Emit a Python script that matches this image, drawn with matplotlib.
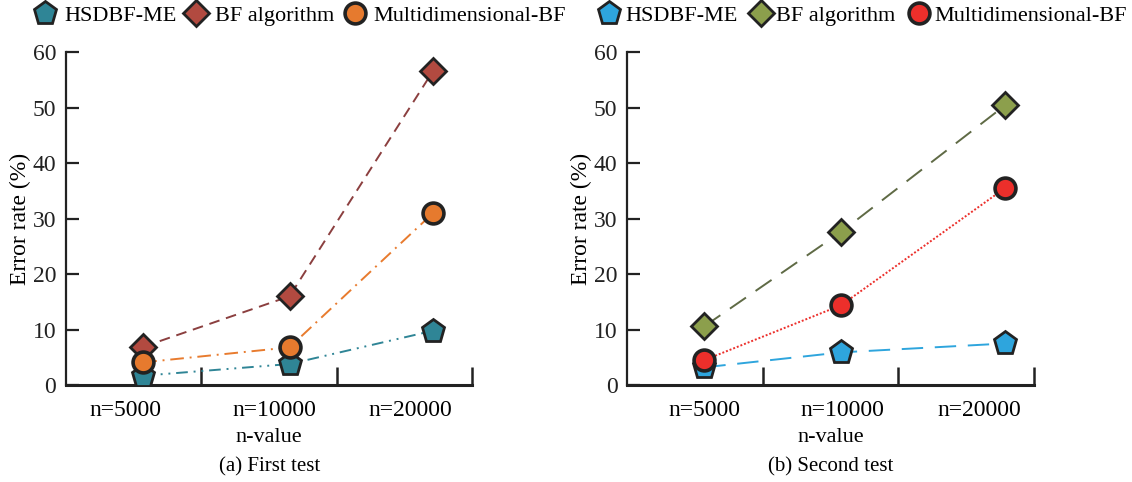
import matplotlib.pyplot as plt

plt.rcParams['font.family'] = ['Liberation Serif', 'DejaVu Serif']
plt.rcParams['font.size'] = 15

categories = ["n=5000", "n=10000", "n=20000"]
series_names = ["HSDBF-ME", "BF algorithm", "Multidimensional-BF"]

# first test (%)
first_hsdbf = [1.7, 3.8, 9.8]
first_bf = [6.9, 16.0, 56.6]
first_multi = [4.1, 6.8, 31.0]

# second test (%)
second_hsdbf = [3.2, 5.9, 7.5]
second_bf = [10.6, 27.6, 50.4]
second_multi = [4.5, 14.4, 35.5]

# where the points and the labels sit inside the three bins
first_x = [0.57, 1.65, 2.71]
second_x = [0.57, 1.58, 2.79]
first_label_x = [0.44, 1.54, 2.54]
second_label_x = [0.57, 1.59, 2.60]

edge = '#222222'


def style_axes(ax, label_x, subtitle):
    ax.set_xlim(0, 3)
    ax.set_ylim(0, 60)
    ax.spines['top'].set_visible(False)
    ax.spines['right'].set_visible(False)
    ax.spines['left'].set_linewidth(1.6)
    ax.spines['bottom'].set_linewidth(2.2)
    ax.spines['left'].set_color(edge)
    ax.spines['bottom'].set_color(edge)
    ax.set_yticks(range(0, 61, 10))
    ax.tick_params(axis='y', direction='in', length=9, width=1.6, pad=7,
                   colors=edge, labelsize=17)
    ax.set_xticks([1, 2, 3])
    ax.set_xticklabels([])
    ax.set_xticks(label_x, categories, minor=True)
    ax.tick_params(axis='x', which='major', direction='in', length=13, width=1.8, colors=edge)
    ax.tick_params(axis='x', which='minor', length=0, pad=11, labelsize=17)
    ax.set_xlabel("n-value", labelpad=5, fontsize=16)
    ax.set_ylabel("Error rate (%)", labelpad=1, fontsize=17)
    ax.text(0.5, -0.245, subtitle, transform=ax.transAxes, ha='center', va='center',
            fontsize=15)


def add_legend(handles, cx, textpad, colspace):
    fig.legend(handles=handles, loc='center', bbox_to_anchor=(cx, 0.968), ncol=3,
               frameon=False, handletextpad=textpad, columnspacing=colspace,
               handlelength=1.2, borderaxespad=0, fontsize=16)


fig = plt.figure(figsize=(11.32, 4.82), dpi=100)
ax1 = fig.add_axes([0.0583, 0.201, 0.359, 0.691])
ax2 = fig.add_axes([0.554, 0.201, 0.359, 0.691])

# (a) first test
ax1.plot(first_x, first_hsdbf, color='#2f8596', lw=1.4, dashes=(6, 3, 1, 3, 1, 3), zorder=2)
ax1.plot(first_x, first_bf, color='#8b3f3f', lw=1.4, dashes=(5.5, 3.5), zorder=2)
ax1.plot(first_x, first_multi, color='#e87b2e', lw=1.4, dashes=(7, 3, 1, 3), zorder=2)

h1 = ax1.plot(first_x, first_hsdbf, ls='none', marker='p', ms=17, mfc='#2f8596',
              mec=edge, mew=2, zorder=3, label=series_names[0])[0]
h2 = ax1.plot(first_x, first_bf, ls='none', marker='D', ms=13, mfc='#b24a40',
              mec=edge, mew=2, zorder=4, label=series_names[1])[0]
h3 = ax1.plot(first_x, first_multi, ls='none', marker='o', ms=15, mfc='#e67a2e',
              mec=edge, mew=2.6, zorder=5, label=series_names[2])[0]
style_axes(ax1, first_label_x, "(a) First test")
add_legend([h1, h2, h3], 0.264, 0.25, 0.3)

# (b) second test
ax2.plot(second_x, second_hsdbf, color='#2ea5dd', lw=1.4, dashes=(11, 6), zorder=2)
ax2.plot(second_x, second_bf, color='#5f6a45', lw=1.4, dashes=(10, 6), zorder=2)
ax2.plot(second_x, second_multi, color='#ec2f2b', lw=1.4, dashes=(1, 1), zorder=2)

g1 = ax2.plot(second_x, second_hsdbf, ls='none', marker='p', ms=17, mfc='#2ea5dd',
              mec=edge, mew=2, zorder=3, label=series_names[0])[0]
g2 = ax2.plot(second_x, second_bf, ls='none', marker='D', ms=13, mfc='#8c9f4c',
              mec=edge, mew=2, zorder=4, label=series_names[1])[0]
g3 = ax2.plot(second_x, second_multi, ls='none', marker='o', ms=15, mfc='#ec2f2b',
              mec=edge, mew=2.6, zorder=5, label=series_names[2])[0]
style_axes(ax2, second_label_x, "(b) Second test")
add_legend([g1, g2, g3], 0.761, 0.1, 0.45)

fig.savefig("out.png", dpi=100)
